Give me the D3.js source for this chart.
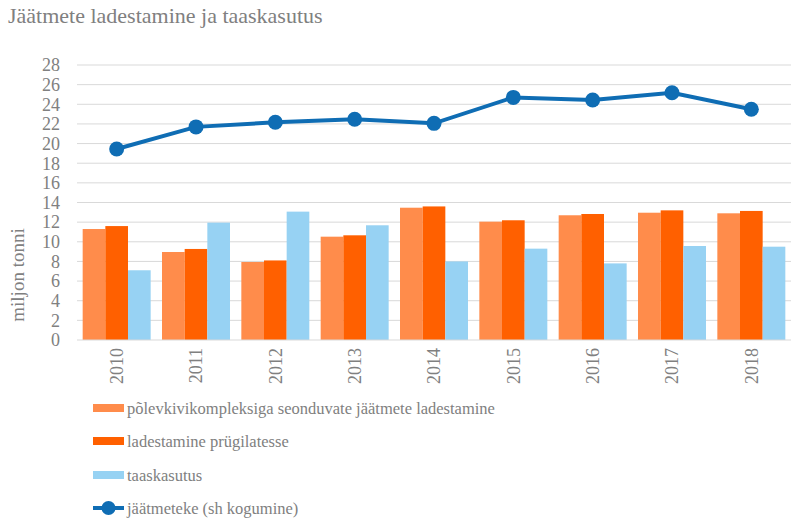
<!DOCTYPE html>
<html>
<head>
<meta charset="utf-8">
<script src="https://cdn.jsdelivr.net/npm/d3@7"></script>
<style>
  body { margin: 0; background: #fff; }
  svg text { fill: #808080; }
</style>
</head>
<body>
<div id="chart"></div>
<script>
const years = ["2010", "2011", "2012", "2013", "2014", "2015", "2016", "2017", "2018"];
const polevkivi = [11.3, 8.96, 7.94, 10.52, 13.47, 12.05, 12.7, 12.96, 12.9];
const prugila = [11.6, 9.27, 8.1, 10.66, 13.6, 12.19, 12.83, 13.2, 13.14];
const taaskasutus = [7.1, 11.95, 13.07, 11.68, 8.0, 9.3, 7.8, 9.57, 9.5];
const jaatmeteke = [19.45, 21.7, 22.17, 22.47, 22.06, 24.7, 24.44, 25.18, 23.5];
const yTicks = [0, 2, 4, 6, 8, 10, 12, 14, 16, 18, 20, 22, 24, 26, 28];

const seriesNames = [
  "põlevkivikompleksiga seonduvate jäätmete ladestamine",
  "ladestamine prügilatesse",
  "taaskasutus"
];
const colors = ["#ff8c4b", "#ff6000", "#97d2f3"];
const lineColor = "#0f6db4";

const width = 800, height = 529,
  margin = ({ top: 65, right: 10, bottom: 189, left: 77 });

const svg = d3.select("#chart")
  .append("svg")
  .attr("width", width)
  .attr("height", height)
  .attr("font-family", "'Liberation Serif', 'DejaVu Serif', serif");

svg.append("text")
  .attr("x", 8)
  .attr("y", 23)
  .attr("font-size", 22)
  .text("Jäätmete ladestamine ja taaskasutus");

let x = d3.scaleBand()
  .domain(years)
  .range([margin.left, 791])
  .paddingInner(0.143)
  .paddingOuter(0.0715);

let x1 = d3.scaleBand()
  .domain([0, 1, 2])
  .range([0, x.bandwidth()]);

let y = d3.scaleLinear()
  .domain([0, 28])
  .range([height - margin.bottom, margin.top]);

// gridlines
svg.append("g")
  .selectAll("line")
  .data(yTicks.filter(d => d > 0))
  .join("line")
  .attr("x1", margin.left)
  .attr("x2", 791)
  .attr("y1", d => y(d))
  .attr("y2", d => y(d))
  .attr("stroke", "#d9d9d9")
  .attr("stroke-width", 1);

// y tick labels
svg.append("g")
  .selectAll("text")
  .data(yTicks)
  .join("text")
  .attr("x", 60)
  .attr("y", d => y(d))
  .attr("dy", "0.35em")
  .attr("text-anchor", "end")
  .attr("font-size", 18)
  .text(d => d);

svg.append("text")
  .attr("transform", `translate(24,${275}) rotate(-90)`)
  .attr("text-anchor", "middle")
  .attr("font-size", 19)
  .text("miljon tonni");

// bars
const barData = [polevkivi, prugila, taaskasutus];
barData.forEach((vals, i) => {
  svg.append("g")
    .selectAll("rect")
    .data(vals)
    .join("rect")
    .attr("x", (d, j) => x(years[j]) + x1(i))
    .attr("width", x1.bandwidth())
    .attr("y", d => y(d))
    .attr("height", d => y(0) - y(d))
    .attr("fill", colors[i]);
});

// x axis line
svg.append("line")
  .attr("x1", margin.left)
  .attr("x2", 791)
  .attr("y1", y(0))
  .attr("y2", y(0))
  .attr("stroke", "#d9d9d9");

// year labels
svg.append("g")
  .selectAll("text")
  .data(years)
  .join("text")
  .attr("transform", d => `translate(${x(d) + x.bandwidth() / 2},${y(0) + 8}) rotate(-90)`)
  .attr("text-anchor", "end")
  .attr("dy", "0.35em")
  .attr("font-size", 18)
  .text(d => d);

// line
let line = d3.line()
  .x((d, i) => x(years[i]) + x.bandwidth() / 2)
  .y(d => y(d));

svg.append("path")
  .datum(jaatmeteke)
  .attr("d", line)
  .attr("fill", "none")
  .attr("stroke", lineColor)
  .attr("stroke-width", 4);

svg.append("g")
  .selectAll("circle")
  .data(jaatmeteke)
  .join("circle")
  .attr("cx", (d, i) => x(years[i]) + x.bandwidth() / 2)
  .attr("cy", d => y(d))
  .attr("r", 7.5)
  .attr("fill", lineColor);

// legend
const legendY = [408, 441, 475, 508];
const legend = svg.append("g");
seriesNames.forEach((name, i) => {
  legend.append("rect")
    .attr("x", 93)
    .attr("y", legendY[i] - 4)
    .attr("width", 31)
    .attr("height", 8)
    .attr("fill", colors[i]);
  legend.append("text")
    .attr("x", 127)
    .attr("y", legendY[i])
    .attr("dy", "0.35em")
    .attr("font-size", 16.5)
    .text(name);
});
legend.append("line")
  .attr("x1", 93).attr("x2", 124)
  .attr("y1", legendY[3]).attr("y2", legendY[3])
  .attr("stroke", lineColor)
  .attr("stroke-width", 4);
legend.append("circle")
  .attr("cx", 108.5)
  .attr("cy", legendY[3])
  .attr("r", 7)
  .attr("fill", lineColor);
legend.append("text")
  .attr("x", 127)
  .attr("y", legendY[3])
  .attr("dy", "0.35em")
  .attr("font-size", 16.5)
  .text("jäätmeteke (sh kogumine)");
</script>
</body>
</html>
